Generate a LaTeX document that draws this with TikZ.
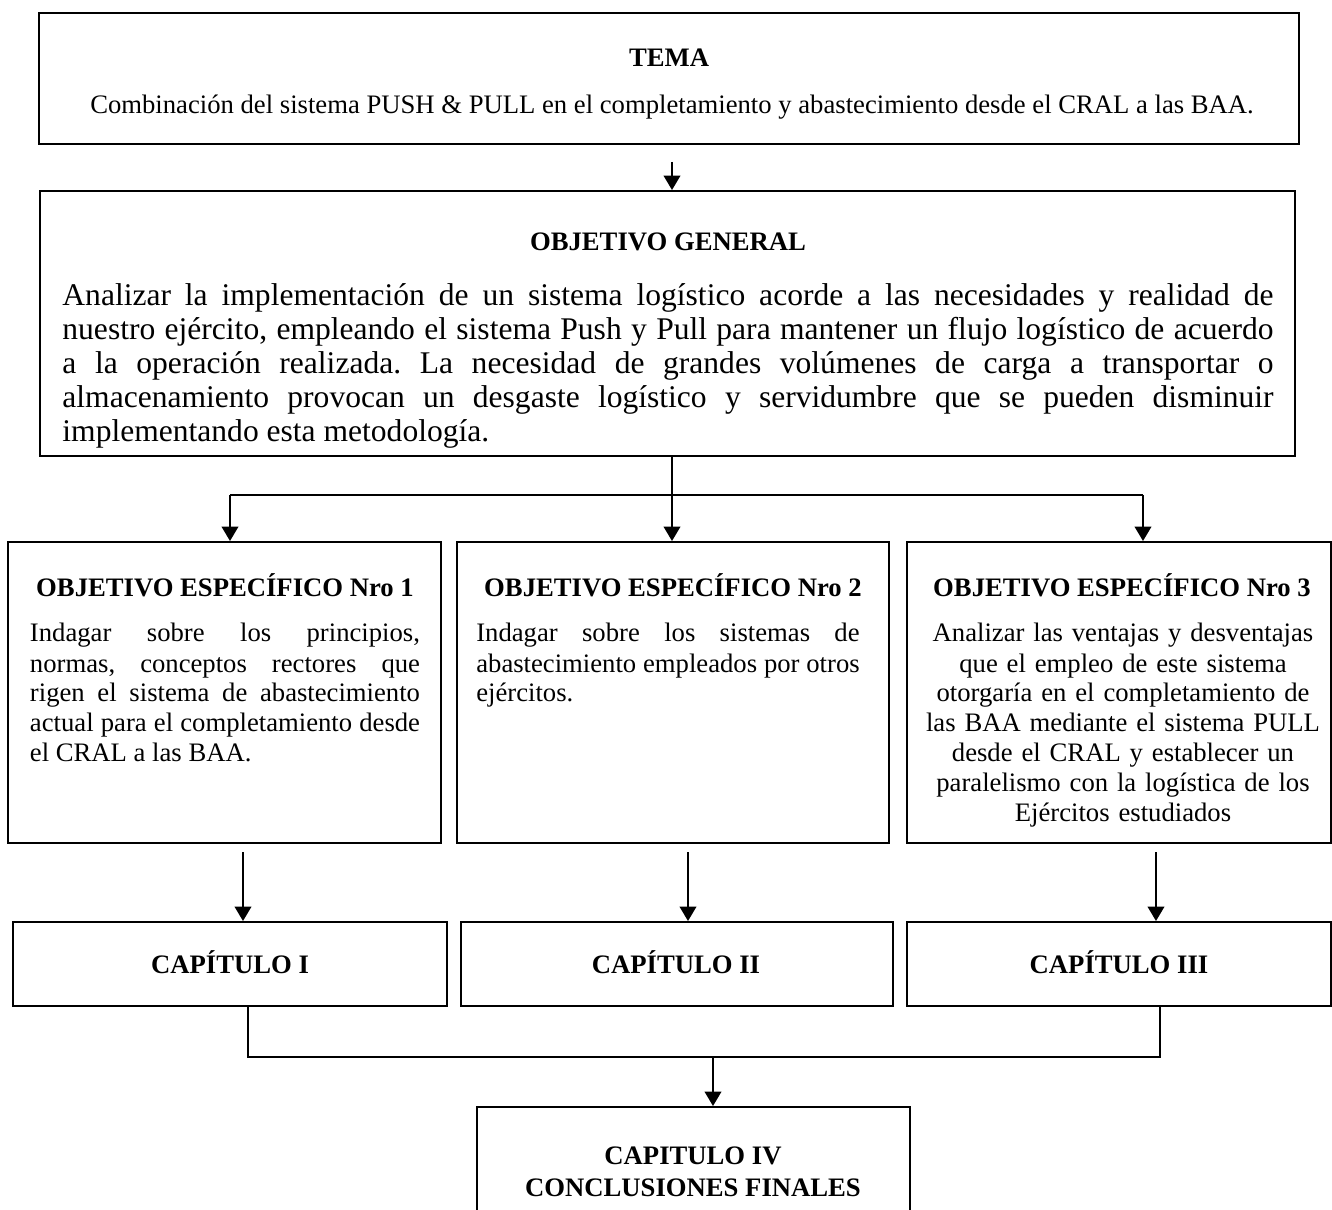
\documentclass[tikz,border=0pt]{standalone}
\usepackage{fontspec}
\setmainfont{Liberation Serif}
\usetikzlibrary{arrows.meta,fit}
\hyphenpenalty=10000
\exhyphenpenalty=10000
\tolerance=9999
\frenchspacing
\begin{document}
\begin{tikzpicture}[x=0.45pt,y=-0.45pt,
  box/.style={draw,line width=0.9pt,inner sep=0pt},
  hdr/.style={font=\bfseries\fontsize{12}{13.5}\selectfont,anchor=base,inner sep=0pt},
  txt/.style={font=\fontsize{12}{13.5}\selectfont,anchor=base,inner sep=0pt},
  gtxt/.style={font=\fontsize{14.2}{15.3}\selectfont,anchor=base,inner sep=0pt},
  arr/.style={line width=0.9pt,-{Triangle[width=7.5pt,length=6.5pt]}},
  ln/.style={line width=0.9pt}]
\useasboundingbox (0,0) rectangle (1332,1210);

% boxes
\node[box,fit={(39,13)(1299,144)}] (tema) {};
\node[box,fit={(40,191)(1295,456)}] (gen) {};
\node[box,fit={(8,542)(441,843)}] (s1) {};
\node[box,fit={(457,542)(889,843)}] (s2) {};
\node[box,fit={(907,542)(1331,843)}] (s3) {};
\node[box,fit={(13,922)(447,1006)}] (c1) {};
\node[box,fit={(461,922)(893,1006)}] (c2) {};
\node[box,fit={(907,922)(1331,1006)}] (c3) {};
\node[box,fit={(477,1107)(910,1240)}] (c4) {};

% texts
\node[hdr] (temah) at (669,67) {TEMA};
\node[txt] (temat) at (672,114) {Combinación del sistema PUSH \& PULL en el completamiento y abastecimiento desde el CRAL a las BAA.};

\node[hdr] (genh) at (668,251) {OBJETIVO GENERAL};
\node[gtxt,text width=545pt,align=justify] (gent) at (668,306) {Analizar la implementación de un sistema logístico acorde a las necesidades y realidad de\linebreak nuestro ejército, empleando el sistema Push y Pull para mantener un flujo logístico de acuerdo\linebreak a la operación realizada. La necesidad de grandes volúmenes de carga a transportar o\linebreak almacenamiento provocan un desgaste logístico y servidumbre que se pueden disminuir\linebreak implementando esta metodología.};

\node[hdr] (s1h) at (225,596) {OBJETIVO ESPECÍFICO Nro 1};
\node[txt,text width=175.5pt,align=justify] (s1t) at (225,642) {Indagar sobre los principios,\linebreak normas, conceptos rectores que\linebreak rigen el sistema de abastecimiento\linebreak actual para el completamiento desde\linebreak el CRAL a las BAA.};

\node[hdr] (s2h) at (673,596) {OBJETIVO ESPECÍFICO Nro 2};
\node[txt,text width=172.5pt,align=justify] (s2t) at (668,642) {Indagar sobre los sistemas de\linebreak abastecimiento empleados por otros\linebreak ejércitos.};

\node[hdr] (s3h) at (1122,596) {OBJETIVO ESPECÍFICO Nro 3};
\node[txt,text width=185pt,align=center] (s3t) at (1123,642) {Analizar las ventajas y desventajas\\ que el empleo de este sistema\\ otorgaría en el completamiento de\\ las BAA mediante el sistema PULL\\ desde el CRAL y establecer un\\ paralelismo con la logística de los\\ Ejércitos estudiados};

\node[hdr] (c1t) at (230,973) {CAPÍTULO I};
\node[hdr] (c2t) at (676,973) {CAPÍTULO II};
\node[hdr] (c3t) at (1119,973) {CAPÍTULO III};
\node[hdr] (c4a) at (693,1164) {CAPITULO IV};
\node[hdr] (c4b) at (693,1196) {CONCLUSIONES FINALES};

% connectors
\coordinate (t1) at (672,162);
\draw[arr] (t1) -- (t1 |- gen.north);

\coordinate (j1) at (672,495);
\coordinate (jl) at (230,495);
\coordinate (jr) at (1143,495);
\draw[ln] (gen.south -| j1) -- (j1);
\draw[ln] (jl) -- (jr);
\draw[arr] (jl) -- (jl |- s1.north);
\draw[arr] (j1) -- (j1 |- s2.north);
\draw[arr] (jr) -- (jr |- s3.north);

\coordinate (d1) at (243,852);
\coordinate (d2) at (688,852);
\coordinate (d3) at (1156,852);
\draw[arr] (d1) -- (d1 |- c1.north);
\draw[arr] (d2) -- (d2 |- c2.north);
\draw[arr] (d3) -- (d3 |- c3.north);

\coordinate (b1) at (248,1057);
\coordinate (b2) at (713,1057);
\coordinate (b3) at (1160,1057);
\draw[ln] (c1.south -| b1) -- (b1) -- (b3) -- (c3.south -| b3);
\draw[arr] (b2) -- (b2 |- c4.north);
\end{tikzpicture}
\end{document}
